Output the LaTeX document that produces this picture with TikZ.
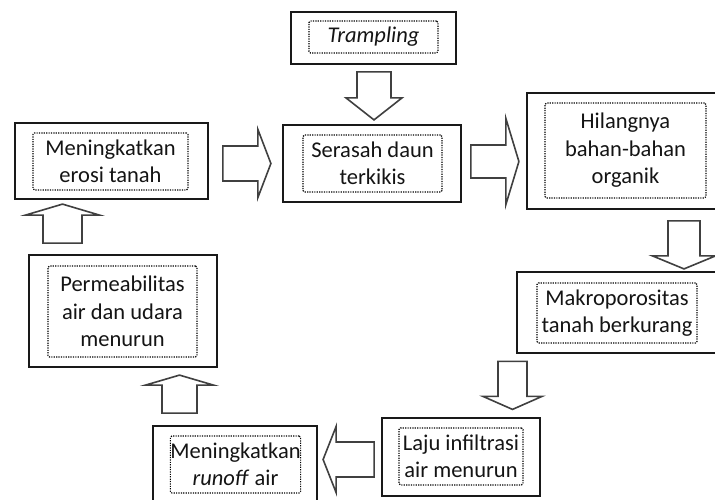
\documentclass[tikz,border=0pt]{standalone}
\usepackage{fontspec}
\setmainfont{Carlito}
\usetikzlibrary{calc}
\definecolor{arrowgray}{HTML}{404040}
\tikzset{
  outerbox/.style={draw=black!90, line width=1.8pt, rectangle, inner sep=0pt},
  innerbox/.style={draw=black, line width=1.1pt, dash pattern=on 1.2pt off 1.2pt, rounded corners=1.5pt,
     rectangle, inner sep=0pt, align=center, font=\fontsize{22.5}{27.5}\selectfont, text=black!92},
  barrow/.style={draw=arrowgray, line width=1.6pt, fill=white, line join=miter}
}
\newcommand{\blockarrow}[6]{%
  \begin{scope}[shift={(#1)}, rotate=#2]
    \draw[barrow] (0,-#4) -- ({#3-#6},-#4) -- ({#3-#6},-#5) -- (#3,0) -- ({#3-#6},#5) -- ({#3-#6},#4) -- (0,#4) -- cycle;
  \end{scope}}
\begin{document}
\begin{tikzpicture}[x=1pt,y=-1pt]
\useasboundingbox (0,0) rectangle (715,499);
% outer boxes
\node[outerbox, minimum width=165, minimum height=52] (tramp) at (373.5,38) {};
\node[outerbox, minimum width=178, minimum height=77] (seras) at (372,163.5) {};
\node[outerbox, minimum width=190, minimum height=116] (hilang) at (622,151) {};
\node[outerbox, minimum width=200, minimum height=81] (makro) at (617,312.5) {};
\node[outerbox, minimum width=158, minimum height=78] (laju) at (461,457) {};
\node[outerbox, minimum width=164, minimum height=79] (runoff) at (235,465.5) {};
\node[outerbox, minimum width=188, minimum height=112] (perm) at (123,311) {};
\node[outerbox, minimum width=193, minimum height=76] (erosi) at (111.5,161) {};
% inner text boxes
\node[innerbox, minimum width=129, minimum height=32] (trampT) at (373.5,37) {\textit{Trampling}};
\node[innerbox, minimum width=139, minimum height=57] (serasT) at (372.5,163.5) {Serasah daun\\terkikis};
\node[innerbox, minimum width=161, minimum height=95] (hilangT) at (625.5,150.5) {Hilangnya\\bahan-bahan\\organik};
\node[innerbox, minimum width=160, minimum height=60] (makroT) at (617,313) {Makroporositas\\tanah berkurang};
\node[innerbox, minimum width=124, minimum height=57] (lajuT) at (461,456.5) {Laju infiltrasi\\air menurun};
\node[innerbox, minimum width=127, minimum height=57] (runoffT) at (235.5,464.5) {Meningkatkan\\\textit{runoff} air};
\node[innerbox, minimum width=149, minimum height=91] (permT) at (122.5,311.5) {Permeabilitas\\air dan udara\\menurun};
\node[innerbox, minimum width=155, minimum height=57] (erosiT) at (110.5,161.5) {Meningkatkan\\erosi tanah};
% arrow tails
\coordinate (a1) at ($(tramp.south)+(0.5,7)$);
\coordinate (a2) at ($(seras.east)+(9,-2)$);
\coordinate (a3) at ($(hilang.south)+(62,11)$);
\coordinate (a4) at ($(makro.south)+(-104.5,7.5)$);
\coordinate (a5) at ($(laju.west)+(-7,2.5)$);
\coordinate (a6) at ($(runoff.north)+(-55.5,-12)$);
\coordinate (a7) at ($(perm.north)+(-60.5,-11)$);
\coordinate (a8) at ($(erosi.east)+(14,2.5)$);
\blockarrow{a1}{-90}{48}{17}{28}{22}
\blockarrow{a2}{0}{48}{16.5}{43}{13}
\blockarrow{a3}{-90}{48}{16}{31.5}{13}
\blockarrow{a4}{-90}{48}{14.5}{29.5}{13}
\blockarrow{a5}{180}{51}{17.5}{33}{13}
\blockarrow{a6}{90}{38}{17.5}{34}{10}
\blockarrow{a7}{90}{39}{19.5}{37}{11}
\blockarrow{a8}{0}{48}{17.5}{34}{13}
\end{tikzpicture}
\end{document}
